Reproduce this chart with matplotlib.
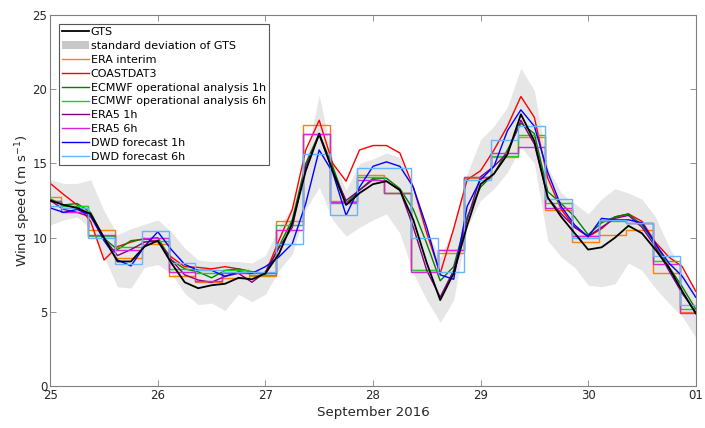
import numpy as np
import matplotlib
matplotlib.use("Agg")
import matplotlib.pyplot as plt

# time in days after 25 Sep 2016 00:00, 3-hourly for the 1h products
t3 = np.arange(49) * 0.125

gts = [12.5, 12.2, 12.0, 11.6, 10.0, 8.4, 8.4, 9.4, 9.8, 8.3, 7.0, 6.6, 6.8,
       6.9, 7.3, 7.2, 7.6, 8.9, 11.0, 14.5, 17.0, 14.5, 12.2, 13.0, 13.6,
       13.8, 13.2, 11.2, 8.3, 5.8, 7.6, 10.8, 13.6, 14.3, 15.6, 18.3, 16.5,
       12.7, 11.4, 10.3, 9.2, 9.35, 10.0, 10.8, 10.3, 9.2, 8.0, 6.4, 4.9]
gts_upper = [13.9, 13.65, 13.65, 13.9, 11.8, 10.2, 10.6, 10.9, 11.2, 10.4, 9.3,
             8.5, 8.4, 8.4, 8.4, 8.3, 8.8, 10.7, 12.1, 15.2, 19.6, 15.2, 13.2,
             15.0, 15.3, 15.7, 15.4, 13.4, 10.5, 8.7, 10.7, 14.3, 16.6, 17.5,
             18.8, 21.4, 19.9, 14.7, 13.0, 12.3, 11.6, 12.6, 13.3, 13.0, 12.6,
             11.4, 9.4, 7.8, 6.3]
gts_lower = [10.85, 11.2, 11.4, 10.6, 8.7, 6.7, 6.6, 8.0, 8.2, 7.6, 6.25, 5.5,
             5.6, 5.1, 6.2, 5.7, 6.2, 7.8, 8.9, 11.9, 13.4, 11.2, 10.1, 10.7,
             11.2, 11.6, 10.3, 7.6, 5.8, 4.3, 5.8, 10.7, 12.5, 13.3, 14.4, 16.1,
             15.0, 9.8, 8.7, 8.0, 6.8, 6.7, 6.9, 8.3, 7.8, 6.6, 5.6, 4.7, 3.3]
coastdat3 = [13.65, 12.9, 12.2, 11.1, 8.5, 9.4, 9.7, 9.95, 9.7, 8.7, 8.05, 8.0,
             7.9, 8.05, 7.9, 7.7, 7.6, 9.8, 11.9, 15.9, 17.9, 15.0, 13.8, 15.9,
             16.2, 16.2, 15.7, 13.4, 10.3, 7.6, 10.6, 13.9, 14.5, 15.9, 17.5,
             19.5, 18.1, 14.0, 11.9, 10.7, 10.06, 10.6, 11.4, 11.6, 11.1, 9.7,
             8.7, 8.05, 6.4]
ecmwf_1h = [12.6, 12.2, 12.3, 11.7, 9.95, 9.2, 9.8, 9.9, 10.0, 8.5, 7.9, 7.7,
            7.3, 7.8, 7.9, 7.7, 7.5, 9.4, 11.2, 15.0, 17.0, 14.8, 12.3, 13.2,
            14.0, 14.0, 13.3, 11.9, 9.6, 7.1, 8.05, 11.4, 13.4, 14.3, 15.9, 17.7,
            17.0, 13.1, 12.3, 11.4, 10.2, 11.0, 11.4, 11.6, 10.85, 9.6, 8.05,
            6.7, 5.2]
era5_1h = [12.5, 11.9, 11.7, 11.4, 9.95, 8.8, 9.2, 9.7, 9.8, 8.5, 7.5, 7.15,
           7.0, 7.4, 7.6, 7.0, 7.7, 9.3, 10.7, 14.8, 16.9, 14.5, 12.5, 13.2,
           13.9, 13.8, 13.2, 10.7, 7.8, 6.0, 7.8, 11.2, 14.1, 14.8, 15.7, 17.9,
           16.3, 12.7, 11.6, 10.7, 10.1, 10.7, 11.3, 11.5, 10.7, 9.4, 7.8, 6.25,
           5.0]
dwd_1h = [12.0, 11.7, 11.9, 11.5, 9.8, 8.5, 8.1, 9.4, 10.4, 9.2, 8.2, 7.8, 7.8,
          7.4, 7.7, 7.6, 8.05, 8.7, 9.6, 12.3, 15.9, 14.4, 11.5, 13.4, 14.8,
          15.1, 14.8, 13.4, 10.7, 7.5, 7.2, 12.1, 13.9, 14.8, 17.2, 18.6, 17.5,
          14.4, 12.1, 10.85, 10.06, 11.3, 11.2, 11.2, 11.0, 9.6, 8.3, 7.4, 6.0]

# 6-hourly products, one value per step
era_interim = [12.75, 12.1, 10.5, 8.6, 9.55, 7.4, 7.0, 7.3, 7.4, 11.1, 17.6,
               12.5, 14.2, 13.0, 7.8, 9.0, 14.0, 15.4, 16.8, 11.85, 9.7, 10.2,
               10.5, 7.6, 5.0]
ecmwf_6h = [12.5, 12.1, 10.1, 9.4, 9.8, 7.9, 7.6, 7.8, 7.5, 10.85, 17.0, 12.3,
            14.1, 13.0, 7.8, 9.2, 14.1, 15.5, 16.9, 12.3, 10.1, 11.1, 11.0, 8.4,
            5.2]
era5_6h = [12.5, 11.7, 10.2, 9.2, 9.95, 7.7, 7.1, 7.6, 7.6, 10.5, 17.0, 12.4,
           13.9, 13.0, 7.7, 9.2, 14.1, 15.7, 16.1, 12.0, 10.1, 11.2, 11.0, 8.2,
           4.95]
dwd_6h = [12.1, 12.0, 9.95, 8.2, 10.45, 8.3, 7.8, 7.7, 7.7, 9.6, 15.6, 11.5,
          14.7, 14.66, 9.95, 7.7, 13.9, 16.6, 17.5, 12.6, 9.95, 11.2, 11.0, 8.8,
          5.5]

day_labels = ['25', '26', '27', '28', '29', '30', '01']

# step edges of the 6h products
edges = np.concatenate([[0.0], 0.1 + 0.25 * np.arange(24), [6.0]])

fig = plt.figure(figsize=(7.05, 4.28), dpi=100)
ax = fig.add_axes([0.0713, 0.0974, 0.9155, 0.8682])

lw = 1.0
ax.plot(t3, gts, color='black', lw=1.3, label='GTS', zorder=3)
ax.fill_between(t3, gts_lower, gts_upper, color='#e6e6e6', lw=0,
                label='standard deviation of GTS', zorder=1)
ax.stairs(era_interim, edges, baseline=None, color='#ff8000', lw=lw,
          label='ERA interim', zorder=2)
ax.plot(t3, coastdat3, color='#ff0000', lw=lw, label='COASTDAT3', zorder=2)
ax.plot(t3, ecmwf_1h, color='#008000', lw=lw,
        label='ECMWF operational analysis 1h', zorder=2)
ax.stairs(ecmwf_6h, edges, baseline=None, color='#22cc22', lw=lw,
          label='ECMWF operational analysis 6h', zorder=2)
ax.plot(t3, era5_1h, color='#800080', lw=lw, label='ERA5 1h', zorder=2)
ax.stairs(era5_6h, edges, baseline=None, color='#dd22dd', lw=lw,
          label='ERA5 6h', zorder=2)
ax.plot(t3, dwd_1h, color='#0000ff', lw=lw, label='DWD forecast 1h', zorder=2)
ax.stairs(dwd_6h, edges, baseline=None, color='#66b3ff', lw=lw,
          label='DWD forecast 6h', zorder=2)

ax.set_xlim(0, 6)
ax.set_ylim(0, 25)
ax.set_xticks(range(7))
ax.set_xticklabels(day_labels)
ax.set_yticks(range(0, 26, 5))
ax.tick_params(direction='in', top=True, right=True, length=4, width=0.6,
               color='#808080', labelsize=8.5, labelcolor='#262626', pad=2)
for s in ax.spines.values():
    s.set_color('#808080')
    s.set_linewidth(0.8)
ax.set_xlabel('September 2016', fontsize=9.6, color='#262626', labelpad=3)
ax.set_ylabel('Wind speed (m s$^{-1}$)', fontsize=9.6, color='#262626',
              labelpad=0)

leg = ax.legend(loc='upper left', fontsize=8, fancybox=False, framealpha=1,
                edgecolor='#555555', borderpad=0.3, labelspacing=0.35,
                handlelength=2.35, handletextpad=0.2, borderaxespad=0.8)
leg.get_frame().set_linewidth(0.8)
leg.legend_handles[1].set_facecolor('#c8c8c8')

fig.savefig('out.png', dpi=100)
